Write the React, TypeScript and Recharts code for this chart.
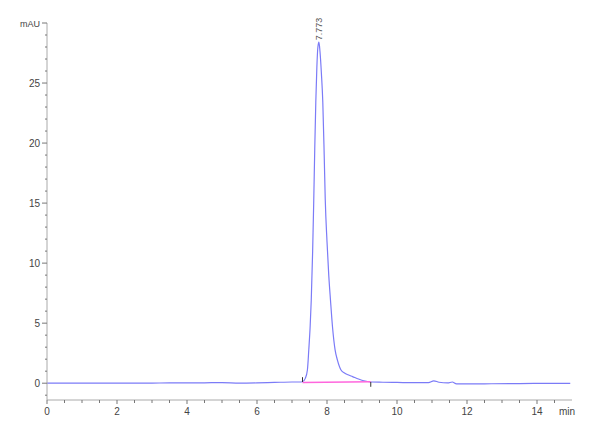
import React from 'react';
import { ComposedChart, Line, XAxis, YAxis, ReferenceDot, ReferenceLine } from 'recharts';

// chromatogram trace (min, mAU)
const times = [
  0, 0.5, 1, 1.5, 2, 2.5, 3, 3.5, 4, 4.5, 5, 5.5, 6, 6.5, 7, 7.2,
  7.3, 7.38, 7.44, 7.48, 7.52, 7.55, 7.59, 7.62, 7.65, 7.68, 7.71, 7.74, 7.77,
  7.8, 7.84, 7.88, 7.92, 7.95, 8.0, 8.05, 8.1, 8.16, 8.23, 8.3, 8.4, 8.5, 8.6,
  8.73, 8.9, 9.05, 9.25, 9.6, 10, 10.5, 10.9, 11.05, 11.2, 11.45, 11.58, 11.7,
  12.5, 13.5, 14.2, 14.95,
];
const signal = [
  0, 0, 0.01, 0, 0, 0, 0.01, 0.02, 0.02, 0.03, 0.05, 0, 0.02, 0.06, 0.1, 0.1,
  0.12, 0.4, 1.1, 2.8, 4.8, 6.9, 11.0, 15.0, 19.5, 23.4, 26.3, 28.0, 28.4,
  27.6, 25.8, 23.4, 19.0, 15.3, 11.8, 9.0, 6.9, 4.6, 2.8, 1.9, 1.1, 0.85, 0.7,
  0.55, 0.35, 0.2, 0.1, 0.08, 0.06, 0.05, 0.05, 0.2, 0.08, 0.02, 0.1, -0.05,
  -0.05, -0.03, -0.02, -0.02,
];

// integration baseline
const baseTimes = [7.3, 9.25];
const baseValues = [0.05, 0.13];

// peak annotation
const peakTimes = [7.773];
const peakHeights = [28.4];
const peakLabels = ['7.773'];

const xTicks = [0, 0.5, 1, 1.5, 2, 2.5, 3, 3.5, 4, 4.5, 5, 5.5, 6, 6.5, 7, 7.5, 8, 8.5, 9, 9.5, 10, 10.5, 11, 11.5, 12, 12.5, 13, 13.5, 14, 14.5, 15];
const yTicks = [-1, 0, 1, 2, 3, 4, 5, 6, 7, 8, 9, 10, 11, 12, 13, 14, 15, 16, 17, 18, 19, 20, 21, 22, 23, 24, 25, 26, 27, 28, 29, 30];

const trace = times.map((t, i) => ({ t, v: signal[i] }));
const baseline = baseTimes.map((t, i) => ({ t, v: baseValues[i] }));

const FONT = '"Liberation Sans", Arial, sans-serif';

const YTick = (props: any) => {
  const { x, y, payload } = props;
  const v = payload.value;
  const major = v % 5 === 0;
  return (
    <g>
      <line x1={x - (major ? 5 : 2)} x2={x} y1={y} y2={y} stroke="#777" />
      {major && (
        <text x={x - 7} y={y} dy={3.5} textAnchor="end" fontSize={v === 30 ? 9 : 10} fill="#444" fontFamily={FONT}>
          {v === 30 ? 'mAU' : v}
        </text>
      )}
    </g>
  );
};

const XTick = (props: any) => {
  const { x, y, payload } = props;
  const v = payload.value;
  if (v === 15) {
    return (
      <text x={x - 5} y={y + 15} textAnchor="middle" fontSize={10} fill="#444" fontFamily={FONT}>
        min
      </text>
    );
  }
  const major = v % 2 === 0;
  return (
    <g>
      <line x1={x} x2={x} y1={y} y2={y + (major ? 4 : 3)} stroke="#777" />
      {major && (
        <text x={x} y={y + 15} textAnchor="middle" fontSize={10} fill="#444" fontFamily={FONT}>
          {v}
        </text>
      )}
    </g>
  );
};

const PeakLabel = (props: any) => {
  const { cx, cy } = props;
  return (
    <text
      x={cx}
      y={cy - 2}
      dy={3}
      transform={`rotate(-90, ${cx}, ${cy - 2})`}
      textAnchor="start"
      fontSize={9}
      fill="#555"
      fontFamily={FONT}
    >
      {peakLabels[0]}
    </text>
  );
};

export default function App() {
  return (
    <div style={{ width: 600, height: 440, background: '#fff' }}>
      <style>{'body{margin:0}'}</style>
      <ComposedChart width={600} height={440} margin={{ top: 23, right: 28, left: 0, bottom: 0 }}>
        <XAxis
          type="number"
          dataKey="t"
          domain={[0, 15]}
          ticks={xTicks}
          interval={0}
          allowDataOverflow
          tickSize={0}
          tickMargin={0}
          tickLine={false}
          axisLine={{ stroke: '#aaa' }}
          tick={<XTick />}
          height={40}
        />
        <YAxis
          type="number"
          domain={[-1.4, 30]}
          ticks={yTicks}
          interval={0}
          allowDataOverflow
          tickSize={0}
          tickMargin={0}
          tickLine={false}
          axisLine={{ stroke: '#aaa' }}
          tick={<YTick />}
          width={47}
        />
        <Line
          data={trace}
          dataKey="v"
          type="monotone"
          stroke="#7b7bf7"
          strokeWidth={1.2}
          dot={false}
          isAnimationActive={false}
        />
        <Line
          data={baseline}
          dataKey="v"
          type="linear"
          stroke="#ff66dd"
          strokeWidth={1.5}
          dot={false}
          isAnimationActive={false}
        />
        <ReferenceLine segment={[{ x: baseTimes[0], y: 0.1 }, { x: baseTimes[0], y: 0.5 }]} stroke="#333" />
        <ReferenceLine segment={[{ x: baseTimes[1], y: 0.1 }, { x: baseTimes[1], y: -0.3 }]} stroke="#333" />
        <ReferenceDot x={peakTimes[0]} y={peakHeights[0]} r={0} shape={<PeakLabel />} />
      </ComposedChart>
    </div>
  );
}
